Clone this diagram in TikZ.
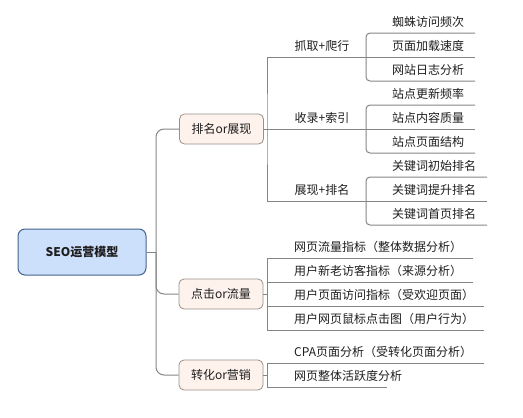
\documentclass[tikz,border=0pt]{standalone}
\usepackage{fontspec}
\setmainfont{Noto Sans CJK SC}
\definecolor{linegray}{HTML}{858585}
\definecolor{rootfill}{HTML}{CCDFFB}
\definecolor{rootdraw}{HTML}{44638F}
\definecolor{topfill}{HTML}{FDF2EC}
\definecolor{topdraw}{HTML}{9A8F8A}
\definecolor{txtcol}{HTML}{1E1E1E}
\tikzset{
  conn/.style={draw=linegray, line width=1pt},
  rootbox/.style={draw=rootdraw, fill=rootfill, line width=1pt, rounded corners=7pt,
    minimum width=128pt, minimum height=46pt, inner sep=0pt, text=txtcol,
    font=\fontsize{12}{14}\selectfont\bfseries},
  topbox/.style={draw=topdraw, fill=topfill, line width=0.8pt, rounded corners=5pt,
    minimum width=84pt, minimum height=30pt, inner sep=0pt, text=txtcol,
    font=\fontsize{12}{14}\selectfont},
  midtxt/.style={inner sep=0pt, text=txtcol, font=\fontsize{12}{14}\selectfont},
  leaftxt/.style={inner sep=0pt, anchor=west, text=txtcol, font=\fontsize{12}{14}\selectfont},
}
\begin{document}
\begin{tikzpicture}[x=1pt,y=-1pt]
\useasboundingbox (0,0) rectangle (523,418);

% root and first level
\node[rootbox] (root) at (82,252) {SEO运营模型};
\node[topbox] (a) at (221.5,129) {排名or展现};
\node[topbox] (b) at (221,294) {点击or流量};
\node[topbox] (c) at (221,375) {转化or营销};

\coordinate (j0) at (156,252);
\draw[conn] (root.east) -- (j0);
\draw[conn, rounded corners=8pt] (j0) |- (a.west);
\draw[conn, rounded corners=8pt] (j0) |- (b.west);
\draw[conn, rounded corners=8pt] (j0) |- (c.west);

% second level under a
\node[midtxt] (a1) at (322,46) {抓取+爬行};
\node[midtxt] (a2) at (322,118) {收录+索引};
\node[midtxt] (a3) at (322,190) {展现+排名};
\coordinate (ja) at (267,129);
\coordinate (a1u) at (366,57);
\coordinate (a2u) at (366,129);
\coordinate (a3u) at (366,201);
\draw[conn] (a.east) -- (a2u);
\draw[conn] (a1u) -| (ja) |- (a3u);

% leaves group 1
\node[leaftxt] (l11) at (392,22) {蜘蛛访问频次};
\node[leaftxt] (l12) at (392,46) {页面加载速度};
\node[leaftxt] (l13) at (392,70) {网站日志分析};
\coordinate (e11) at (475,33);
\coordinate (e12) at (475,57);
\coordinate (e13) at (475,81);
\draw[conn, rounded corners=4pt] (e11) -| (a1u) |- (e13);
\draw[conn] (a1u) -- (e12);

% leaves group 2
\node[leaftxt] (l21) at (392,94) {站点更新频率};
\node[leaftxt] (l22) at (392,118) {站点内容质量};
\node[leaftxt] (l23) at (392,142) {站点页面结构};
\coordinate (e21) at (475,105);
\coordinate (e22) at (475,129);
\coordinate (e23) at (475,153);
\draw[conn, rounded corners=4pt] (e21) -| (a2u) |- (e23);
\draw[conn] (a2u) -- (e22);

% leaves group 3
\node[leaftxt] (l31) at (392,166) {关键词初始排名};
\node[leaftxt] (l32) at (392,190) {关键词提升排名};
\node[leaftxt] (l33) at (392,214) {关键词首页排名};
\coordinate (e31) at (487,177);
\coordinate (e32) at (487,201);
\coordinate (e33) at (487,225);
\draw[conn, rounded corners=4pt] (e31) -| (a3u) |- (e33);
\draw[conn] (a3u) -- (e32);

% leaves under b
\node[leaftxt] (b1) at (294,247) {网页流量指标（整体数据分析）};
\node[leaftxt] (b2) at (294,271) {用户新老访客指标（来源分析）};
\node[leaftxt] (b3) at (294,295) {用户页面访问指标（受欢迎页面）};
\node[leaftxt] (b4) at (294,319) {用户网页鼠标点击图（用户行为）};
\coordinate (jb) at (267,294);
\coordinate (jb1) at (267,258);
\coordinate (jb2) at (267,282);
\coordinate (jb3) at (267,306);
\coordinate (jb4) at (267,330);
\coordinate (f1) at (473,258);
\coordinate (f2) at (473,282);
\coordinate (f3) at (484,306);
\coordinate (f4) at (484,330);
\draw[conn] (b.east) -- (jb);
\draw[conn] (f1) -- (jb1) -- (jb4) -- (f4);
\draw[conn] (jb2) -- (f2);
\draw[conn] (jb3) -- (f3);

% leaves under c
\node[leaftxt] (c1) at (294,352) {CPA页面分析（受转化页面分析）};
\node[leaftxt] (c2) at (294,376) {网页整体活跃度分析};
\coordinate (jc) at (267,375);
\coordinate (jc1) at (267,363);
\coordinate (jc2) at (267,387);
\coordinate (g1) at (484,363);
\coordinate (g2) at (387,387);
\draw[conn] (c.east) -- (jc);
\draw[conn] (g1) -- (jc1) -- (jc2) -- (g2);
\end{tikzpicture}
\end{document}
